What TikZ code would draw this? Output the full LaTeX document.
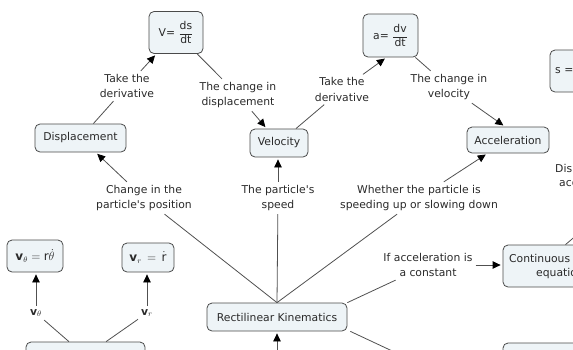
\documentclass[tikz,border=0pt]{standalone}
\usepackage{amsmath}
\usepackage{fontspec}
\setmainfont{DejaVu Sans}
\usetikzlibrary{arrows.meta,calc}
\definecolor{nodefill}{HTML}{EEF4F7}
\definecolor{bordergray}{HTML}{4A4A4A}
\definecolor{linegray}{HTML}{505050}
\definecolor{textgray}{HTML}{2A2A2A}
\begin{document}
\begin{tikzpicture}[x=1pt,y=-1pt,
  font=\fontsize{10.8}{15.5}\selectfont,
  concept/.style={draw=bordergray, fill=nodefill, rounded corners=5pt, line width=0.8pt, text=textgray, inner sep=0pt, align=center},
  lab/.style={text=textgray, align=center, inner sep=3pt},
  plain/.style={text=textgray, inner sep=0pt},
  link/.style={draw=linegray, line width=0.8pt},
  arr/.style={link, -{Triangle[length=8pt,width=7.5pt,color=black]}, shorten >=2pt}]
\useasboundingbox (0,0) rectangle (573,349);
\clip (0,0) rectangle (573,349);

% concepts
\node[concept, minimum width=54pt, minimum height=42pt] (V) at (176,32.5) {V= \(\dfrac{\text{ds}}{\text{dt}}\)};
\node[concept, minimum width=55pt, minimum height=43pt] (A) at (390.5,35.5) {a= \(\dfrac{\text{dv}}{\text{dt}}\)};
\node[concept, minimum width=91pt, minimum height=28pt] (disp) at (80.5,138) {Displacement};
\node[concept, minimum width=58pt, minimum height=28pt] (vel) at (279,143) {Velocity};
\node[concept, minimum width=82pt, minimum height=26pt] (acc) at (508,140) {Acceleration};
\node[concept, minimum width=60pt, minimum height=42pt] (S) at (580,71) {};
\node[plain, anchor=west] (Stext) at (555,71) {s =};
\node[concept, minimum width=137pt, minimum height=42pt] (cont) at (571.5,266) {};
\node[plain, anchor=west] (conttext1) at (509,258) {Continuous};
\node[plain, anchor=west] (conttext2) at (536,274) {equations};
\node[concept, minimum width=140pt, minimum height=28pt] (rect) at (277,317) {Rectilinear Kinematics};
\node[concept, minimum width=56pt, minimum height=32pt] (vth) at (35,256) {\large\(\mathbf{v}_{\theta} = \mathrm{r}\dot{\theta}\)};
\node[concept, minimum width=52pt, minimum height=29pt] (vr) at (148,257.5) {\large\(\mathbf{v}_{r} \,=\, \dot{\mathrm{r}}\)};
\node[concept, minimum width=119pt, minimum height=28pt] (bl) at (85.5,356) {};
\node[concept, minimum width=137pt, minimum height=28pt] (br) at (571.5,357) {};
\node[plain, anchor=west] (dis1) at (555,168) {Dis};
\node[plain, anchor=west] (dis2) at (559,184) {acc};

% linking phrases
\node[lab] (L1) at (127,86) {Take the\\derivative};
\node[lab] (L2) at (238,95) {The change in\\displacement};
\node[lab] (L3) at (342,89.5) {Take the\\derivative};
\node[lab] (L4) at (449,87) {The change in\\velocity};
\node[lab] (L5) at (144,198) {Change in the\\particle\textquotesingle s position};
\node[lab] (L6) at (278,198) {The particle\textquotesingle s\\speed};
\node[lab] (L7) at (419,198) {Whether the particle is\\speeding up or slowing down};
\node[lab] (L8) at (428,265) {If acceleration is\\a constant};
\node[lab] (L9) at (36,313) {\(\mathbf{v}_{\theta}\)};
\node[lab] (L10) at (147,313) {\(\mathbf{v}_{r}\)};

\coordinate (brEnd) at (420,364);
\coordinate (btStart) at (277,365);
\coordinate (contEnd) at (585,228);

% connectors
\draw[link] (disp) -- (L1);
\draw[arr] (L1) -- (V);
\draw[link] (V) -- (L2);
\draw[arr] (L2) -- (vel);
\draw[link] (vel) -- (L3);
\draw[arr] (L3) -- ([xshift=-4pt]A.south);
\draw[link] (A) -- (L4);
\draw[arr] (L4) -- ([xshift=-3pt]acc.north);
\draw[link] (rect.north) -- (L5);
\draw[arr] (L5) -- (disp);
\draw[link] (rect.north) -- (L6);
\draw[arr] (L6) -- (L6 |- vel.south);
\draw[link] (rect.north) -- (L7);
\draw[arr] (L7) -- (acc);
\draw[link] (rect.north east) -- (L8);
\draw[arr] (L8.east) -- (L8.east -| cont.west);
\draw[link] ([xshift=3pt]rect.south east) -- (brEnd);
\draw[arr] (btStart) -- (rect.south);
\draw[link] ([xshift=-6pt]cont.north) -- (contEnd);
\draw[link] (bl) -- (L9);
\draw[arr] (L9) -- (L9 |- vth.south);
\draw[link] (bl) -- (L10);
\draw[arr] (L10) -- (L10 |- vr.south);
\end{tikzpicture}
\end{document}
